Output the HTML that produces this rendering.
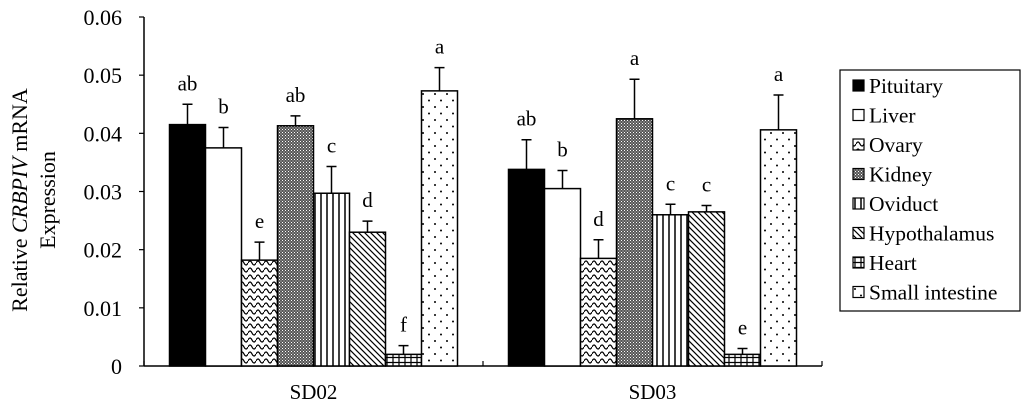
<!DOCTYPE html>
<html><head><meta charset="utf-8"><style>
html,body{margin:0;padding:0;background:#fff;}
svg{display:block;font-family:"Liberation Serif",serif;}
text{font-family:"Liberation Serif",serif;}
</style></head><body>
<svg id="chart" width="1024" height="410" viewBox="0 0 1024 410" font-family="Liberation Serif, serif">
<defs>
<pattern id="p-wave" width="8" height="7" patternUnits="userSpaceOnUse"><rect width="8" height="7" fill="#fff"/><path d="M0 4 Q2 0 4 4 T8 4" fill="none" stroke="#000" stroke-width="1.2"/></pattern>
<pattern id="p-check" width="3" height="3" patternUnits="userSpaceOnUse"><rect width="3" height="3" fill="#555"/><rect width="1" height="1" fill="#fff"/><rect x="1.5" y="1.5" width="1" height="1" fill="#ddd"/></pattern>
<pattern id="p-vert" width="6" height="6" patternUnits="userSpaceOnUse"><rect width="6" height="6" fill="#fff"/><line x1="3" y1="0" x2="3" y2="6" stroke="#000" stroke-width="1.5"/></pattern>
<pattern id="p-diag" width="6" height="6" patternUnits="userSpaceOnUse"><rect width="6" height="6" fill="#fff"/><path d="M0 0 L6 6 M-3 3 L3 9 M3 -3 L9 3" stroke="#000" stroke-width="1.2"/></pattern>
<pattern id="p-grid" width="6" height="5" patternUnits="userSpaceOnUse"><rect width="6" height="5" fill="#fff"/><path d="M0 2.5 H6 M3 0 V5" stroke="#000" stroke-width="1.2"/></pattern>
<pattern id="p-dots" width="12" height="13" patternUnits="userSpaceOnUse"><rect width="12" height="13" fill="#fff"/><circle cx="3" cy="3" r="1" fill="#000"/><circle cx="9" cy="9.5" r="1" fill="#000"/></pattern>
</defs>
<g id="axes"></g><g id="bars"></g><g id="legend"></g>
</svg>
<script>
const groups = ["SD02","SD03"];
const tissues = ["Pituitary","Liver","Ovary","Kidney","Oviduct","Hypothalamus","Heart","Small intestine"];
const valuesSD02 = [0.0415,0.0375,0.0182,0.0413,0.0297,0.0230,0.0020,0.0473];
const valuesSD03 = [0.0338,0.0305,0.0185,0.0425,0.0260,0.0265,0.0020,0.0406];
const errSD02 = [0.0035,0.0035,0.0031,0.0017,0.0046,0.0019,0.0015,0.0040];
const errSD03 = [0.0051,0.0031,0.0032,0.0068,0.0018,0.0011,0.0010,0.0060];
const lettersSD02 = ["ab","b","e","ab","c","d","f","a"];
const lettersSD03 = ["ab","b","d","a","c","c","e","a"];
const yTicks = [0,0.01,0.02,0.03,0.04,0.05,0.06];
const yTickLabels = ["0","0.01","0.02","0.03","0.04","0.05","0.06"];
const fills = ["#000","#fff","url(#p-wave)","url(#p-check)","url(#p-vert)","url(#p-diag)","url(#p-grid)","url(#p-dots)"];
const NS="http://www.w3.org/2000/svg";
const FF="Liberation Serif, serif";
const X0=144,X1=822,Y0=366,Y1=17,YMAX=0.06,BW=36;
const y=v=>Y0-(v/YMAX)*(Y0-Y1);
const gw=(X1-X0)/groups.length;
const bx=(g,i)=>X0+g*gw+(gw-BW*tissues.length)/2+i*BW;
function mk(tag,attrs,parent){const e=document.createElementNS(NS,tag);for(const k in attrs)e.setAttribute(k,attrs[k]);if(tag==='text')e.setAttribute('font-family',FF);parent.appendChild(e);return e;}
const axes=document.getElementById('axes'),bars=document.getElementById('bars'),leg=document.getElementById('legend');
const ya=mk('line',{x1:X0,y1:Y1,x2:X0,y2:Y0,stroke:'#000','stroke-width':1.5},axes);

const xa=mk('line',{x1:X0,y1:Y0,x2:X1,y2:Y0,stroke:'#000','stroke-width':1.5},axes);

yTicks.forEach((t,i)=>{
 mk('line',{x1:X0-5,y1:y(t),x2:X0,y2:y(t),stroke:'#000','stroke-width':1.2},axes);
 const tx=mk('text',{x:122,y:y(t)+8,'text-anchor':'end','font-size':22},axes);
 tx.textContent=yTickLabels[i];
 
});
for(let g=0;g<=groups.length;g++){mk('line',{x1:X0+g*gw,y1:Y0,x2:X0+g*gw,y2:Y0-5,stroke:'#000','stroke-width':1.2},axes);}
groups.forEach((gname,g)=>{
 const tx=mk('text',{x:X0+g*gw+gw/2,y:399,'text-anchor':'middle','font-size':21},axes);
 tx.textContent=gname;
 
});
const yt=mk('text',{transform:'translate(27,200) rotate(-90)','text-anchor':'middle','font-size':22},axes);
yt.innerHTML='Relative <tspan font-style="italic">CRBPIV</tspan> mRNA';

const yt2=mk('text',{transform:'translate(55,200) rotate(-90)','text-anchor':'middle','font-size':22},axes);
yt2.textContent='Expression';

const vals=[valuesSD02,valuesSD03],errs=[errSD02,errSD03],lets=[lettersSD02,lettersSD03];
groups.forEach((gname,g)=>{
 tissues.forEach((tn,i)=>{
  const v=vals[g][i],e=errs[g][i],x=bx(g,i);
  const cx=x+BW/2;
  const eb=mk('path',{d:`M${cx} ${y(v)} V${y(v+e)} M${cx-5} ${y(v+e)} H${cx+5}`,stroke:'#000','stroke-width':1.5,fill:'none'},bars);
  
  const r=mk('rect',{x:x,y:y(v),width:BW,height:Y0-y(v),fill:fills[i],stroke:'#000','stroke-width':1.5},bars);
  
  
  const lt=mk('text',{x:cx,y:y(v+e)-14,'text-anchor':'middle','font-size':21},bars);
  lt.textContent=lets[g][i];
  
 });
});
const lb=mk('rect',{x:840,y:70,width:180,height:241,fill:'#fff',stroke:'#000','stroke-width':1.2},leg);

tissues.forEach((tn,i)=>{
 const yy=86+i*29.5;
 const sw=mk('rect',{x:853,y:yy-6,width:11,height:11,fill:fills[i],stroke:'#000','stroke-width':1.2},leg);
 
 const tx=mk('text',{x:869,y:yy+7,'font-size':21.5},leg);
 tx.textContent=tn;
 
});
</script>
</body></html>
